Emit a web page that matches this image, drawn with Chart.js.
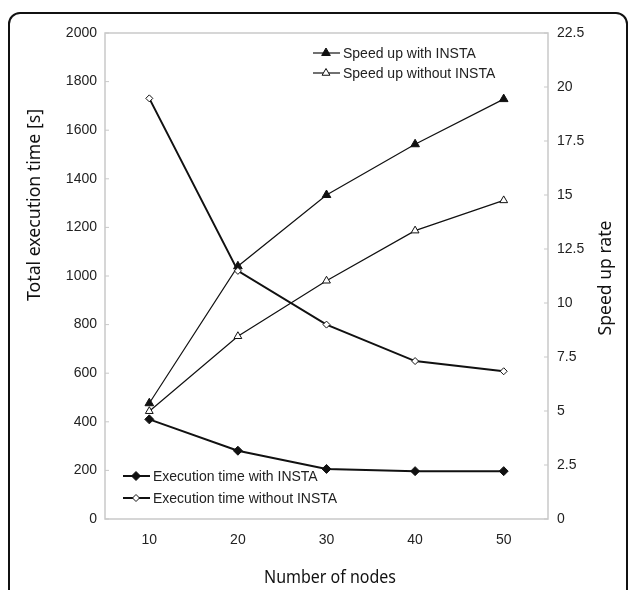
<!DOCTYPE html>
<html>
<head>
<meta charset="utf-8">
<script src="https://cdn.jsdelivr.net/npm/chart.js@4/dist/chart.umd.min.js"></script>
<style>
    html, body { margin: 0; padding: 0; background: #fff; overflow: hidden; }
    #frame {
        position: absolute; left: 8px; top: 12px;
        width: 620px; height: 620px; box-sizing: border-box;
        border: 2px solid #111; border-radius: 12px;
    }
    #NodesChart { position: absolute; left: 0; top: 0; }
</style>
</head>
<body>
<div id="frame"></div>
<canvas id="NodesChart" width="629" height="590"></canvas>
<script>
const nodes = ["10", "20", "30", "40", "50"];
const execWithInsta = [410, 281, 206, 197, 197];
const execWithoutInsta = [1731, 1021, 800, 650, 608];
const speedWithInsta = [5.36, 11.7, 15.0, 17.35, 19.44];
const speedWithoutInsta = [4.99, 8.46, 11.03, 13.35, 14.75];

const timeTicks = { min: 0, max: 2000, step: 200 };
const rateTicks = { min: 0, max: 22.5, step: 2.5 };

// plot box, inward tick marks, axis titles and the two inset legends
const decorations = {
    id: "decorations",
    afterDraw(chart, args, opts) {
        const ctx = chart.ctx;
        const a = chart.chartArea;
        ctx.save();

        ctx.strokeStyle = "#c9c9c9";
        ctx.lineWidth = 1.5;
        ctx.strokeRect(a.left, a.top, a.right - a.left, a.bottom - a.top);

        ctx.lineWidth = 1;
        const yl = chart.scales.y, yr = chart.scales.y1;
        yl.ticks.forEach((t, i) => {
            const py = yl.getPixelForTick(i);
            ctx.beginPath(); ctx.moveTo(a.left, py); ctx.lineTo(a.left + 4, py); ctx.stroke();
        });
        yr.ticks.forEach((t, i) => {
            const py = yr.getPixelForTick(i);
            ctx.beginPath(); ctx.moveTo(a.right - 4, py); ctx.lineTo(a.right, py); ctx.stroke();
        });

        ctx.fillStyle = "#111";
        ctx.textAlign = "center";
        ctx.textBaseline = "middle";
        opts.titles.forEach(t => {
            ctx.save();
            ctx.font = t.font;
            ctx.translate(t.x, t.y);
            ctx.rotate(t.rotation);
            ctx.fillText(t.text, 0, 0, t.maxWidth);
            ctx.restore();
        });

        opts.legends.forEach(lg => {
            const ds = chart.data.datasets[lg.dataset];
            ctx.strokeStyle = ds.borderColor;
            ctx.lineWidth = ds.borderWidth;
            ctx.beginPath();
            ctx.moveTo(lg.x, lg.y);
            ctx.lineTo(lg.x + 27, lg.y);
            ctx.stroke();
            ctx.fillStyle = ds.pointBackgroundColor;
            ctx.strokeStyle = ds.pointBorderColor;
            ctx.lineWidth = ds.pointBorderWidth;
            Chart.helpers.drawPoint(ctx, {
                pointStyle: ds.pointStyle,
                radius: ds.pointRadius,
                rotation: 0,
                borderWidth: ds.pointBorderWidth,
            }, lg.x + 13, lg.y);
            ctx.fillStyle = "#222";
            ctx.font = "14px 'Liberation Sans', Arial, sans-serif";
            ctx.textAlign = "left";
            ctx.fillText(ds.label, lg.x + 30, lg.y + 1);
        });
        ctx.restore();
    },
};

function NodesChart() {
    const ctx = document.getElementById("NodesChart");
    const tickFont = { family: "'Liberation Sans', Arial, sans-serif", size: 14 };

    new Chart(ctx, {
        type: "line",
        data: {
            labels: nodes,
            datasets: [
                {
                    label: "Execution time with INSTA",
                    data: execWithInsta,
                    yAxisID: "y",
                    borderColor: "#111",
                    borderWidth: 2,
                    pointStyle: "rectRot",
                    pointRadius: 4.5,
                    pointBackgroundColor: "#111",
                    pointBorderColor: "#111",
                    pointBorderWidth: 1,
                },
                {
                    label: "Execution time without INSTA",
                    data: execWithoutInsta,
                    yAxisID: "y",
                    borderColor: "#111",
                    borderWidth: 2,
                    pointStyle: "rectRot",
                    pointRadius: 3.5,
                    pointBackgroundColor: "#fff",
                    pointBorderColor: "#111",
                    pointBorderWidth: 1,
                },
                {
                    label: "Speed up with INSTA",
                    data: speedWithInsta,
                    yAxisID: "y1",
                    borderColor: "#111",
                    borderWidth: 1.2,
                    pointStyle: "triangle",
                    pointRadius: 5,
                    pointBackgroundColor: "#111",
                    pointBorderColor: "#111",
                    pointBorderWidth: 1,
                },
                {
                    label: "Speed up without INSTA",
                    data: speedWithoutInsta,
                    yAxisID: "y1",
                    borderColor: "#111",
                    borderWidth: 1.2,
                    pointStyle: "triangle",
                    pointRadius: 4.5,
                    pointBackgroundColor: "#fff",
                    pointBorderColor: "#111",
                    pointBorderWidth: 1,
                },
            ],
        },
        options: {
            responsive: false,
            animation: false,
            layout: {
                padding: { top: 33, left: 0, right: 0, bottom: 0 },
            },
            scales: {
                x: {
                    offset: true,
                    grid: { display: false, drawTicks: false },
                    border: { display: false },
                    ticks: { font: tickFont, color: "#222", padding: 13 },
                    afterFit(scale) { scale.height = 71; },
                },
                y: {
                    position: "left",
                    min: timeTicks.min,
                    max: timeTicks.max,
                    grid: { display: false, drawTicks: false },
                    border: { display: false },
                    ticks: {
                        stepSize: timeTicks.step,
                        font: tickFont,
                        color: "#222",
                        padding: 8,
                        callback: (v) => String(v),
                    },
                    afterFit(scale) { scale.width = 105; },
                },
                y1: {
                    position: "right",
                    min: rateTicks.min,
                    max: rateTicks.max,
                    grid: { display: false, drawTicks: false },
                    border: { display: false },
                    ticks: {
                        stepSize: rateTicks.step,
                        font: tickFont,
                        color: "#222",
                        padding: 9,
                        callback: (v) => String(v),
                    },
                    afterFit(scale) { scale.width = 81; },
                },
            },
            plugins: {
                legend: { display: false },
                tooltip: { enabled: false },
                decorations: {
                    titles: [
                        { text: "Total execution time [s]", x: 35, y: 205, rotation: -Math.PI / 2, font: "18px 'Noto Sans', sans-serif", maxWidth: 192 },
                        { text: "Speed up rate", x: 606, y: 278, rotation: -Math.PI / 2, font: "18px 'Noto Sans', sans-serif", maxWidth: 115 },
                        { text: "Number of nodes", x: 330, y: 578, rotation: 0, font: "18px 'Noto Sans', sans-serif", maxWidth: 132 },
                    ],
                    legends: [
                        { dataset: 2, x: 313, y: 53 },
                        { dataset: 3, x: 313, y: 73 },
                        { dataset: 0, x: 123, y: 476 },
                        { dataset: 1, x: 123, y: 498 },
                    ],
                },
            },
        },
        plugins: [decorations],
    });
}

NodesChart()
</script>
</body>
</html>
